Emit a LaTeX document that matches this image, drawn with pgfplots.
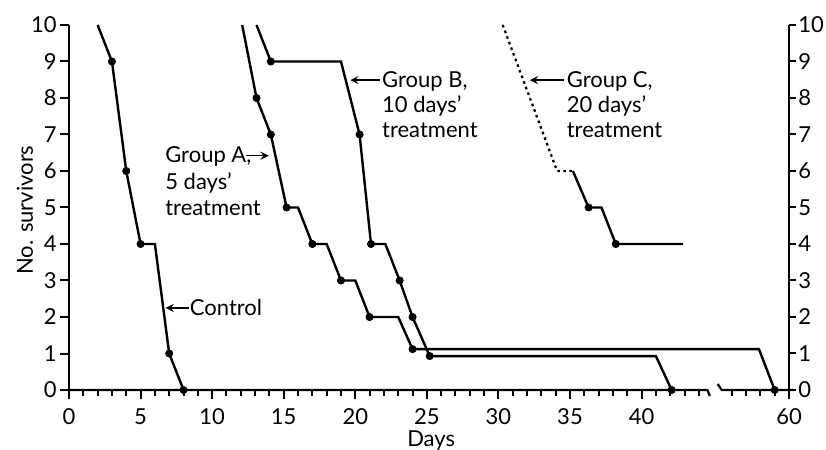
\documentclass[border=0pt]{standalone}
\usepackage{pgfplots}
\pgfplotsset{compat=1.18}
\usepackage{fontspec}
\setmainfont{Lato}
% x positions are plotted on the broken axis: days up to 45 as they are,
% days after the break (55-60) shifted left by 9.7 (60 days -> 50.3)
\begin{document}
\fontsize{11}{13}\selectfont
\begin{tikzpicture}
\useasboundingbox (-34.5pt,-30pt) rectangle (378.5pt,195pt);
\begin{axis}[
  at={(0,0)}, anchor=south west,
  scale only axis, width=360pt, height=182.5pt,
  xmin=0, xmax=50.3, ymin=0, ymax=10,
  clip=false,
  axis x line=bottom, axis y line=left,
  x axis line style={draw=none},
  y axis line style={-, line width=1.1pt},
  tick align=outside,
  major tick length=4.5pt, minor tick length=3pt,
  every tick/.style={black, line width=1pt},
  xtick={0,5,10,15,20,25,30,35,40,50.3},
  xticklabels={0,5,10,15,20,25,30,35,40,60},
  minor xtick={1,2,3,4,6,7,8,9,11,12,13,14,16,17,18,19,21,22,23,24,26,27,28,29,31,32,33,34,36,37,38,39,41,42,43,44,46.3,47.3,48.3,49.3},
  ytick={0,1,2,3,4,5,6,7,8,9,10},
  /pgf/number format/assume math mode=true,
  tick label style={font=\fontsize{11}{13}\selectfont},
  xticklabel style={yshift=-1pt},
  yticklabel style={inner sep=1.5pt},
]
% broken x axis
\draw[line width=1.1pt] (axis cs:0,0) -- (axis cs:44.6,0) -- ++(1.2pt,-3pt);
\draw[line width=1.1pt] (axis cs:45.6,0) ++(-2pt,3pt) -- (axis cs:45.6,0) -- (axis cs:50.7,0);

% Control
\addplot[black, line width=1.2pt] coordinates {(2,10)(3,9)(4,6)(5,4)(6,4)(7,1)(8,0)};
\addplot[black, only marks, mark=*, mark size=1.8pt] coordinates {(3,9)(4,6)(5,4)(7,1)(8,0)};
% Group A
\addplot[black, line width=1.2pt] coordinates {(12.1,10)(13.1,8)(14.1,7)(15.2,5)(16,5)(17,4)(18,4)(19,3)(20,3)(21,2)(23,2)(24,1.12)(48.2,1.12)(49.3,0)};
\addplot[black, only marks, mark=*, mark size=1.8pt] coordinates {(13.1,8)(14.1,7)(15.2,5)(17,4)(19,3)(21,2)(24,1.12)(49.3,0)};
% Group B
\addplot[black, line width=1.2pt] coordinates {(13.1,10)(14.1,9)(19,9)(20.3,7)(21.1,4)(22.1,4)(23.1,3)(24,2)(25.2,0.93)(41,0.93)(42.1,0)};
\addplot[black, only marks, mark=*, mark size=1.8pt] coordinates {(14.1,9)(20.3,7)(21.1,4)(23.1,3)(24,2)(25.2,0.93)(42.1,0)};
% Group C
\addplot[black, line width=1.1pt, dash pattern=on 1.3pt off 1.7pt] coordinates {(30.3,10)(34.1,6)(35.2,6)};
\addplot[black, line width=1.2pt] coordinates {(35.2,6)(36.3,5)(37.2,5)(38.2,4)(42.9,4)};
\addplot[black, only marks, mark=*, mark size=1.8pt] coordinates {(36.3,5)(38.2,4)};

% annotations
\draw[<-, >=stealth, line width=0.8pt] (axis cs:6.75,2.25) -- (axis cs:8.35,2.25);
\node[anchor=west, inner sep=0.5pt] at (axis cs:8.35,2.25) {Control};

\node[anchor=base west, inner sep=0pt] at (axis cs:6.7,6.22) {Group A,};
\draw[->, >=stealth, line width=0.8pt] (axis cs:12.35,6.42) -- (axis cs:13.95,6.42);
\node[anchor=base west, inner sep=0pt] at (axis cs:6.7,5.48) {5 days'};
\node[anchor=base west, inner sep=0pt] at (axis cs:6.7,4.79) {treatment};

\draw[<-, >=stealth, line width=0.8pt] (axis cs:19.65,8.49) -- (axis cs:21.7,8.49);
\node[anchor=base west, inner sep=0pt] at (axis cs:21.85,8.28) {Group B,};
\node[anchor=base west, inner sep=0pt] at (axis cs:21.85,7.60) {10 days'};
\node[anchor=base west, inner sep=0pt] at (axis cs:21.85,6.93) {treatment};

\draw[<-, >=stealth, line width=0.8pt] (axis cs:32.2,8.49) -- (axis cs:34.6,8.49);
\node[anchor=base west, inner sep=0pt] at (axis cs:34.75,8.28) {Group C,};
\node[anchor=base west, inner sep=0pt] at (axis cs:34.75,7.60) {20 days'};
\node[anchor=base west, inner sep=0pt] at (axis cs:34.75,6.93) {treatment};

% axis labels
\node[rotate=90] at (axis cs:-3.07,4.93) {No. survivors};
\node at (axis cs:25.3,-1.37) {Days};
\end{axis}
\begin{axis}[
  at={(0,0)}, anchor=south west,
  scale only axis, width=360pt, height=182.5pt,
  xmin=0, xmax=50.3, ymin=0, ymax=10,
  axis x line=none, axis y line=right,
  y axis line style={-, line width=1.1pt},
  tick align=outside,
  major tick length=3.5pt,
  every tick/.style={black, line width=1pt},
  ytick={0,1,2,3,4,5,6,7,8,9,10},
  /pgf/number format/assume math mode=true,
  tick label style={font=\fontsize{11}{13}\selectfont},
  yticklabel style={inner sep=1pt},
]
\end{axis}
\end{tikzpicture}
\end{document}
